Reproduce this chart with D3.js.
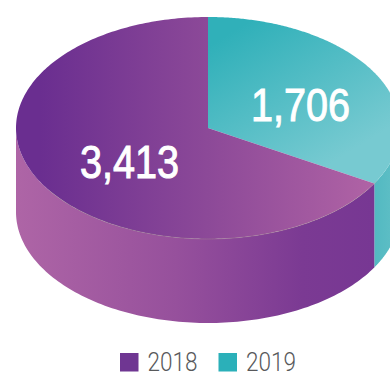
<!DOCTYPE html>
<html>
<head>
<meta charset="utf-8">
<script src="https://cdn.jsdelivr.net/npm/d3@7"></script>
<style>
html,body{margin:0;padding:0;background:#fff;overflow:hidden}
svg{display:block}
</style>
</head>
<body>
<svg id="chart" width="390" height="372"></svg>
<script>
const categories = ["2019", "2018"];
const values = [1706, 3413];
const valueLabels = ["1,706", "3,413"];
const legendColors = ["#6f3692", "#2bb0b9"];
const legendOrder = ["2018", "2019"];

const W = 390, H = 372;
const cx = 208, cy = 128, rx = 192, ry = 111, depth = 84;

const svg = d3.select("#chart");
const defs = svg.append("defs");

function gradient(id, x1, y1, x2, y2, stops) {
  const g = defs.append("linearGradient").attr("id", id)
    .attr("gradientUnits", "userSpaceOnUse")
    .attr("x1", x1).attr("y1", y1).attr("x2", x2).attr("y2", y2);
  stops.forEach(([o, c]) => g.append("stop").attr("offset", o).attr("stop-color", c));
}
gradient("topPurple", 40, 0, 374, 0, [[0, "#6a2e90"], [0.5, "#8c4998"], [1, "#b063a5"]]);
gradient("topTeal", 235, 30, 320, 170, [[0, "#30b0b9"], [1, "#77cad1"]]);
gradient("sidePurple", 16, 0, 374, 0, [[0, "#ae65a6"], [0.45, "#96509c"], [0.8, "#7b3a93"], [1, "#773793"]]);
gradient("sideTeal", 374, 0, 400, 0, [[0, "#52b9c1"], [1, "#62c0c7"]]);

const pie = d3.pie().sort(null).value(d => d);
const slices = pie(values);

// Angle to a point on the flattened rim, 0 at the top, clockwise
const rimX = a => cx + rx * Math.sin(a);
const rimY = a => cy - ry * Math.cos(a);
const sweep = (a0, a1, n) => d3.range(0, n + 1).map(i => a0 + (a1 - a0) * i / n);
const line = d3.line();

// Outer wall of a slice between two angles
function wallPath(a0, a1) {
  const steps = sweep(a0, a1, 120);
  const top = steps.map(a => [rimX(a), rimY(a)]);
  const bottom = steps.slice().reverse().map(a => [rimX(a), rimY(a) + depth]);
  return line(top.concat(bottom)) + "Z";
}

// Top face of a slice: a wedge from the centre out to the rim
function topPath(a0, a1) {
  const rim = sweep(a0, a1, 240).map(a => [rimX(a), rimY(a)]);
  return line([[cx, cy]].concat(rim)) + "Z";
}

const wallFills = ["url(#sideTeal)", "url(#sidePurple)"];
const topFills = ["url(#topTeal)", "url(#topPurple)"];
const frontStart = Math.PI / 2, frontEnd = Math.PI * 1.5;

svg.append("g").selectAll("path").data(slices).join("path")
  .attr("d", d => wallPath(Math.max(d.startAngle, frontStart), Math.min(d.endAngle, frontEnd)))
  .attr("fill", (d, i) => wallFills[i]);

svg.append("g").selectAll("path").data(slices).join("path")
  .attr("d", d => topPath(d.startAngle, d.endAngle))
  .attr("fill", (d, i) => topFills[i]);

// Hairline rim between the top face and the wall
svg.append("path")
  .attr("d", line(sweep(frontStart + 0.5, frontEnd - 0.6, 180).map(a => [rimX(a), rimY(a)])))
  .attr("fill", "none")
  .attr("stroke", "#a89a8c")
  .attr("stroke-width", 0.5)
  .attr("stroke-opacity", 0.7);

// Value labels
const labelPos = [[300.5, 121], [129.5, 178]];
svg.append("g").selectAll("text").data(valueLabels).join("text")
  .attr("x", (d, i) => labelPos[i][0])
  .attr("y", (d, i) => labelPos[i][1])
  .attr("text-anchor", "middle")
  .attr("fill", "#fff")
  .attr("stroke", "#fff")
  .attr("stroke-width", 1)
  .attr("font-family", "'Liberation Sans', Arial, sans-serif")
  .attr("font-size", 46)
  .attr("textLength", 99)
  .attr("lengthAdjust", "spacingAndGlyphs")
  .text(d => d);

// Legend
const legendX = d3.scaleOrdinal().domain(legendOrder).range([120, 218.5]);
const legend = svg.append("g").selectAll("g").data(legendOrder).join("g")
  .attr("transform", d => `translate(${legendX(d)},353)`);
legend.append("rect")
  .attr("width", 18.5).attr("height", 18.5)
  .attr("fill", (d, i) => legendColors[i]);
legend.append("text")
  .attr("x", 27.5).attr("y", 18)
  .attr("fill", "#58595b")
  .attr("font-family", "Roboto, 'Liberation Sans', sans-serif")
  .attr("font-weight", 300)
  .attr("font-size", 25)
  .attr("textLength", 50)
  .attr("lengthAdjust", "spacingAndGlyphs")
  .text(d => d);
</script>
</body>
</html>
